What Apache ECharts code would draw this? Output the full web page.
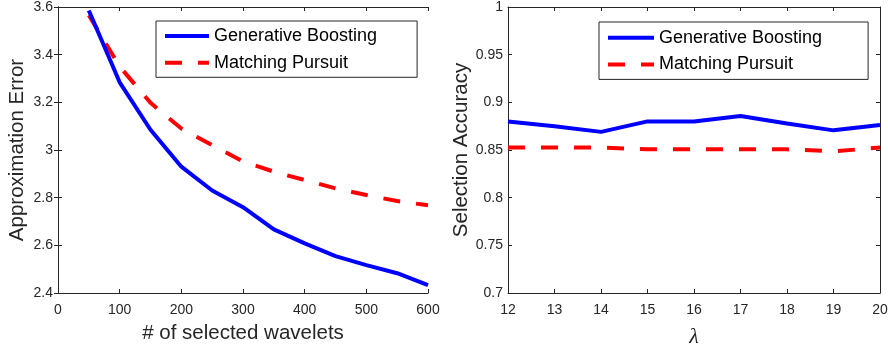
<!DOCTYPE html>
<html>
<head>
<meta charset="utf-8">
<script src="https://cdn.jsdelivr.net/npm/echarts@6/dist/echarts.min.js"></script>
<style>
html,body{margin:0;padding:0;background:#fff;}
#c{width:888px;height:345px;}
</style>
</head>
<body>
<div id="c"></div>
<script>
// ---- data ----
const waveletCounts = [50, 100, 150, 200, 250, 300, 350, 400, 450, 500, 550, 600];
const errGenerativeBoosting = [3.585, 3.284, 3.085, 2.93, 2.83, 2.76, 2.667, 2.608, 2.555, 2.517, 2.483, 2.433];
const errMatchingPursuit = [3.566, 3.35, 3.198, 3.09, 3.02, 2.952, 2.909, 2.874, 2.839, 2.811, 2.786, 2.768];

const lambdas = [12, 13, 14, 15, 16, 17, 18, 19, 20];
const accGenerativeBoosting = [0.880, 0.875, 0.869, 0.880, 0.880, 0.8857, 0.8777, 0.8706, 0.8763];
const accMatchingPursuit = [0.8525, 0.8525, 0.8525, 0.8507, 0.8507, 0.8507, 0.8507, 0.8486, 0.8525];

const seriesNames = ['Generative Boosting', 'Matching Pursuit'];
const leftXTitle = '# of selected wavelets';
const leftYTitle = 'Approximation Error';
const rightXTitle = 'λ';
const rightYTitle = 'Selection Accuracy';

const pairs = (xs, ys) => xs.map((x, i) => [x, ys[i]]);

const AX = '#262626';
const FONT = '"Liberation Sans", Arial, Helvetica, sans-serif';
const tickFont = 14;

function xAxisMain(grid, min, max, interval, name, gap, nameFont) {
  return {
    type: 'value', gridIndex: grid, position: 'bottom', min, max, interval,
    axisLine: {show: true, lineStyle: {color: AX, width: 1}},
    axisTick: {show: true, inside: true, length: 4, lineStyle: {color: AX}},
    axisLabel: {show: true, color: AX, fontSize: tickFont, fontFamily: FONT, margin: 10},
    splitLine: {show: false},
    name, nameLocation: 'middle', nameGap: gap,
    nameTextStyle: Object.assign({color: AX, fontSize: 20.5, fontFamily: FONT, verticalAlign: 'middle'}, nameFont || {})
  };
}
function xAxisTop(grid, min, max, interval) {
  return {
    type: 'value', gridIndex: grid, position: 'top', min, max, interval,
    axisLine: {show: true, lineStyle: {color: AX, width: 1}},
    axisTick: {show: true, inside: true, length: 4, lineStyle: {color: AX}},
    axisLabel: {show: false}, splitLine: {show: false}
  };
}
function yAxisMain(grid, min, max, interval, name, gap) {
  return {
    type: 'value', gridIndex: grid, position: 'left', min, max, interval,
    axisLine: {show: true, lineStyle: {color: AX, width: 1}},
    axisTick: {show: true, inside: true, length: 4, lineStyle: {color: AX}},
    axisLabel: {show: true, color: AX, fontSize: tickFont, fontFamily: FONT, margin: 5},
    splitLine: {show: false},
    name, nameLocation: 'middle', nameGap: gap, nameRotate: 90,
    nameTextStyle: {color: AX, fontSize: 20.5, fontFamily: FONT, verticalAlign: 'middle'}
  };
}
function yAxisRight(grid, min, max, interval) {
  return {
    type: 'value', gridIndex: grid, position: 'right', min, max, interval,
    axisLine: {show: true, lineStyle: {color: AX, width: 1}},
    axisTick: {show: true, inside: true, length: 4, lineStyle: {color: AX}},
    axisLabel: {show: false}, splitLine: {show: false}
  };
}

const blueStyle = {color: '#0000ff', width: 4, type: 'solid'};
const redStyle = {color: '#ff0000', width: 4, type: [17, 16]};

function lineSeries(name, xi, yi, data, style) {
  return {
    type: 'line', name, xAxisIndex: xi, yAxisIndex: yi, data,
    showSymbol: false, symbol: 'none', smooth: false, animation: false,
    itemStyle: {color: style.color},
    lineStyle: style, z: name === seriesNames[0] ? 3 : 2
  };
}

function legend(left, top, itemWidth, padding) {
  return {
    show: true, orient: 'vertical', left, top,
    data: seriesNames, itemWidth, itemHeight: 14, itemGap: 8.7,
    padding, borderColor: AX, borderWidth: 1, backgroundColor: '#fff',
    itemStyle: {color: 'rgba(0,0,0,0)', borderWidth: 0, opacity: 0},
    lineStyle: {width: 4},
    textStyle: {color: '#000', fontSize: 18, fontFamily: FONT}
  };
}

const chart = echarts.init(document.getElementById('c'), null, {renderer: 'canvas'});
chart.setOption({
  animation: false,
  backgroundColor: '#fff',
  grid: [
    {left: 58, top: 7, width: 370, height: 286, outerBoundsMode: 'none', containLabel: false},
    {left: 508, top: 7, width: 372, height: 286, outerBoundsMode: 'none', containLabel: false}
  ],
  xAxis: [
    xAxisMain(0, 0, 600, 100, leftXTitle, 40),
    xAxisTop(0, 0, 600, 100),
    xAxisMain(1, 12, 20, 1, rightXTitle, 44, {fontFamily: '"Liberation Serif", "DejaVu Serif", serif', fontStyle: 'italic', fontSize: 22}),
    xAxisTop(1, 12, 20, 1)
  ],
  yAxis: [
    yAxisMain(0, 2.4, 3.6, 0.2, leftYTitle, 41),
    yAxisRight(0, 2.4, 3.6, 0.2),
    yAxisMain(1, 0.7, 1, 0.05, rightYTitle, 45.5),
    yAxisRight(1, 0.7, 1, 0.05)
  ],
  legend: [
    legend(156, 21, 44, [6, 40, 5.6, 7]),
    legend(599, 22, 46, [6.7, 46, 6, 7])
  ],
  series: [
    lineSeries(seriesNames[0], 0, 0, pairs(waveletCounts, errGenerativeBoosting), blueStyle),
    lineSeries(seriesNames[1], 0, 0, pairs(waveletCounts, errMatchingPursuit), redStyle),
    lineSeries(seriesNames[0], 2, 2, pairs(lambdas, accGenerativeBoosting), blueStyle),
    lineSeries(seriesNames[1], 2, 2, pairs(lambdas, accMatchingPursuit), redStyle)
  ]
});
</script>
</body>
</html>
